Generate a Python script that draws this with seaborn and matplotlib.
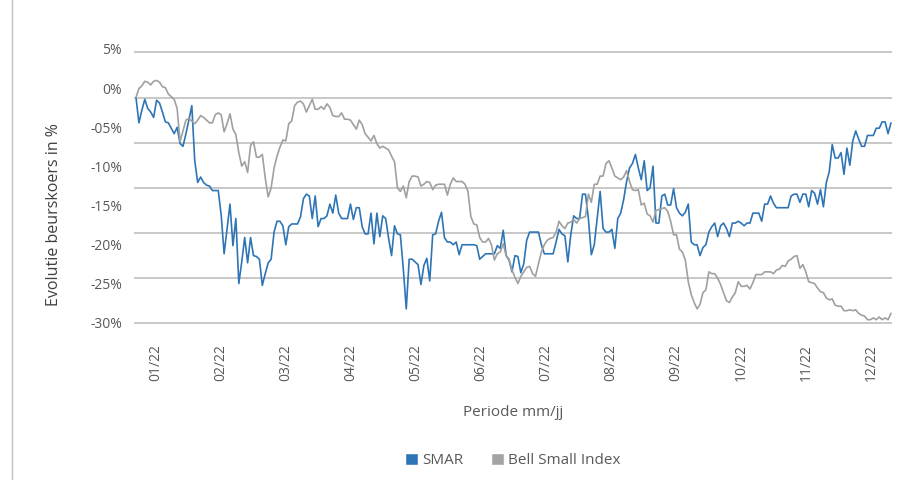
import numpy as np
import pandas as pd
import seaborn as sns
import matplotlib.pyplot as plt
from matplotlib.patches import Patch
from matplotlib.lines import Line2D

smar = [
    0, -2.8, -1.4, -0.2, -1.2, -1.6, -2.2, -0.3, -0.6, -1.6, -2.7, -2.8, -3.4, -4.0, -3.3,
    -5.1, -5.4, -4.0, -2.5, -0.9, -7.0, -9.4, -8.8, -9.4, -9.7, -9.8, -10.3, -10.3, -10.3,
    -13.0, -17.3, -14.5, -11.8, -16.4, -13.4, -20.6, -18.2, -15.5, -18.3, -15.5, -17.5, -17.6, -17.9,
    -20.8, -19.5, -18.3, -17.9, -14.9, -13.7, -13.7, -14.2, -16.3, -14.3, -14.0, -14.0, -14.0,
    -13.2, -11.2, -10.7, -10.9, -13.4, -10.9, -14.3, -13.4, -13.4, -13.1, -11.8, -12.8, -10.8,
    -12.8, -13.4, -13.4, -13.4, -11.8, -13.5, -12.2, -12.2, -14.3, -15.1, -15.1, -12.8, -16.2,
    -12.8, -15.4, -13.1, -13.4, -15.6,
    -17.5, -14.2, -15.1, -15.2, -19.0, -23.4, -17.9, -17.9, -18.2, -18.5, -20.7, -18.6, -17.8,
    -20.3, -15.2, -15.1, -13.7, -12.7, -15.5, -16.0, -16.0, -16.3, -16.0, -17.4, -16.3, -16.3,
    -16.3, -16.3, -16.3, -16.4, -17.9, -17.6, -17.3, -17.3, -17.3, -17.3, -16.4, -16.7, -14.7,
    -17.5, -18.0, -19.3, -17.5,
    -17.6, -19.4, -18.4, -15.8, -14.9, -14.9, -14.9, -14.9, -16.3, -17.3, -17.3, -17.3, -17.3,
    -16.0, -14.6, -15.1, -15.3, -18.2, -15.2, -13.1, -13.4, -13.4, -10.7, -10.7, -13.4, -17.4,
    -16.3, -13.4, -10.4, -14.5, -14.9, -14.9, -14.6, -16.7, -13.4, -12.8, -11.3, -9.3, -7.8,
    -7.3, -6.3, -7.8, -9.1,
    -7.0, -10.3, -10.0, -7.6, -13.9, -13.9, -10.9, -10.7, -11.9, -11.9, -10.1, -12.2, -12.8,
    -13.1, -12.7, -11.8, -16.0, -16.3, -16.3, -17.5, -16.6, -16.3, -14.9, -14.3, -13.9, -15.4,
    -14.2, -13.9, -14.5, -15.4, -13.9, -13.9, -13.7, -13.9, -14.2, -13.9, -13.9, -12.8, -12.8,
    -12.8, -13.7, -11.8,
    -11.8, -10.9, -11.7, -12.2, -12.2, -12.2, -12.2, -12.2, -10.9, -10.7, -10.7, -11.6, -10.7,
    -10.7, -12.1, -10.3, -10.6, -11.8, -10.2, -12.1, -9.4, -8.2, -5.2, -6.7, -6.7, -6.1, -8.5,
    -5.6, -7.5, -4.8, -3.7, -4.6, -5.4, -5.4, -4.2, -4.2, -4.2, -3.4, -3.4, -2.7, -2.7, -4.0, -2.8,
]

bell = [
    0, 1.0, 1.3, 1.8, 1.7, 1.4, 1.8, 1.9, 1.7, 1.2, 1.1, 0.4, 0.1, -0.2, -1.2, -4.9, -3.7,
    -2.5, -2.3, -2.6, -2.9, -2.5, -2.0, -2.2, -2.5, -2.8, -2.8, -1.9, -1.7, -1.9, -3.8, -2.9,
    -1.8, -3.5, -4.1, -6.1, -7.6, -7.1, -8.3, -5.3, -4.9, -6.6, -6.6,
    -6.3, -8.9, -11.0, -10.0, -7.8, -6.5, -5.5, -4.7, -4.8, -2.9, -2.6, -0.9, -0.5, -0.4, -0.7,
    -1.6, -0.9, -0.2, -1.3, -1.3, -1.0, -1.3, -0.7, -1.1, -2.0, -2.1, -2.1, -1.7, -2.4, -2.4,
    -2.5, -3.0, -3.5, -2.5, -3.0, -4.0, -4.4, -4.8, -4.2, -5.1, -5.6, -5.4, -5.6, -5.8,
    -6.5, -7.1, -10.0, -10.4, -9.8, -11.1, -9.3, -8.7, -8.7, -8.8, -9.8, -9.6, -9.3, -9.4,
    -10.2, -9.7, -9.6, -9.6, -9.6, -10.8, -9.6, -8.9, -9.3, -9.3, -9.3, -9.6, -10.4, -13.2,
    -14.0, -14.1, -15.5, -16.0, -16.0, -15.6, -16.3, -18.0, -17.3, -17.1, -16.2, -17.5, -17.9,
    -19.1, -19.9,
    -20.6, -19.8, -19.3, -18.8, -18.7, -19.5, -19.8, -18.4, -17.1, -16.3, -15.8, -15.6, -15.5,
    -14.9, -13.7, -14.2, -14.5, -13.9, -13.8, -13.5, -13.9, -13.4, -13.3, -13.2, -10.7, -11.6,
    -9.6, -9.6, -8.7, -8.7, -7.3, -7.0, -7.8, -8.7, -8.9, -9.1, -8.8, -8.1, -9.3, -10.2, -10.3,
    -10.2, -11.9,
    -11.7, -12.9, -13.1, -13.8, -12.5, -12.4, -12.3, -12.2, -12.6, -13.7, -15.2, -15.2, -16.8,
    -17.1, -18.0, -20.4, -21.8, -22.7, -23.4, -22.9, -21.6, -21.3, -19.3, -19.5, -19.5, -20.0,
    -20.7, -21.6, -22.5, -22.7, -22.1, -21.6, -20.4, -20.9, -20.9, -20.8, -21.2, -20.5, -19.6,
    -19.6, -19.6, -19.3,
    -19.3, -19.3, -19.5, -19.1, -19.0, -18.6, -18.7, -18.1, -17.9, -17.6, -17.5, -18.9, -18.5,
    -19.3, -20.4, -20.5, -20.6, -21.1, -21.5, -21.6, -22.2, -22.4, -22.3, -23.0, -23.1, -23.1,
    -23.6, -23.6, -23.5, -23.6, -23.5, -23.9, -24.1, -24.2, -24.6, -24.6, -24.4, -24.6, -24.3,
    -24.6, -24.4, -24.6, -23.9,
]

maanden = ["01/22", "02/22", "03/22", "04/22", "05/22", "06/22",
           "07/22", "08/22", "09/22", "10/22", "11/22", "12/22"]
rasterlijnen = [5, 0, -5, -10, -15, -20, -25]
y_labels = ["5%", "0%", "-05%", "-10%", "-15%", "-20%", "-25%", "-30%"]
y_label_pos = [5.4, 1.05, -3.3, -7.65, -11.95, -16.25, -20.55, -24.95]

blauw = "#2E75B6"
grijs = "#A0A0A0"

n = len(smar)
df = pd.DataFrame({"dag": np.arange(n), "SMAR": smar, "Bell Small Index": bell})
df = df.melt(id_vars="dag", var_name="reeks", value_name="rendement")

sns.set_theme(style="white")
plt.rcParams["font.family"] = ["Open Sans", "DejaVu Sans"]

fig = plt.figure(figsize=(9.14, 4.8), dpi=100)
ax = fig.add_axes([0.1466, 0.317, 0.8293, 0.5833])

# horizontale rasterlijnen
for r in rasterlijnen:
    ax.axhline(r, color="#C8C8C8", linewidth=1.4, zorder=1)

sns.lineplot(data=df, x="dag", y="rendement", hue="reeks",
             palette={"SMAR": blauw, "Bell Small Index": grijs},
             linewidth=1.2, legend=False, ax=ax, zorder=2)

ax.set_xlim(-0.68, n - 1 + 0.34)
ax.set_ylim(-25.5, 5.5)

ax.set_yticks(rasterlijnen)
ax.set_yticklabels([])
ax.set_yticks(y_label_pos, y_labels, minor=True)
ax.tick_params(axis="y", which="both", length=0, pad=8.6, labelsize=10, labelcolor="#595959")

maand_pos = 6.6 + 22.16 * np.arange(len(maanden))
ax.set_xticks(maand_pos, maanden, rotation=90)
ax.tick_params(axis="x", length=0, pad=12, labelsize=10, labelcolor="#595959")
sns.despine(ax=ax, left=True, bottom=True)

ax.set_xlabel("Periode mm/jj", fontsize=11, color="#595959")
ax.xaxis.set_label_coords(0.5, -0.276)
ax.set_ylabel("Evolutie beurskoers in %", fontsize=11.5, color="#404040")
ax.yaxis.set_label_coords(-0.095, 0.403)

handles = [Patch(facecolor=blauw, label="SMAR"),
           Patch(facecolor="#A5A2A2", label="Bell Small Index")]
fig.legend(handles=handles, loc="center", bbox_to_anchor=(0.561, 0.04), ncol=2,
           frameon=False, handlelength=0.85, handleheight=0.85, handletextpad=0.3,
           columnspacing=1.8, fontsize=11, labelcolor="#595959")

fig.add_artist(Line2D([12 / 914, 12 / 914], [0, 1], color="#BFBFBF", linewidth=1,
                      transform=fig.transFigure))

fig.savefig("out.png", dpi=100)
